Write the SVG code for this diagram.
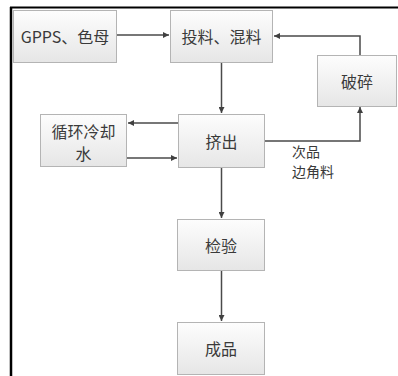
<svg xmlns="http://www.w3.org/2000/svg" width="398" height="376" viewBox="0 0 398 376">
<style>
.box{fill:url(#g);stroke:#b4b4b4;stroke-width:1}
.sh{fill:#d8d8d8}
.t{font-family:"Noto Sans CJK SC","Liberation Sans",sans-serif;font-size:16px;fill:#3a3a3a;text-anchor:middle;dominant-baseline:central}
.lb{font-family:"Noto Sans CJK SC","Liberation Sans",sans-serif;font-size:14px;fill:#3a3a3a}
.c{fill:none;stroke:#4a4a4a;stroke-width:1.5}
</style>
<defs>
<linearGradient id="g" x1="0" y1="0" x2="0" y2="1">
<stop offset="0" stop-color="#fdfdfd"/>
<stop offset="1" stop-color="#e6e6e6"/>
</linearGradient>
<marker id="a" viewBox="0 0 10 10" refX="10" refY="5" markerWidth="6" markerHeight="6" orient="auto" markerUnits="userSpaceOnUse">
<path d="M0,0 L10,5 L0,10 z" fill="#404040"/>
</marker>
</defs>
<rect x="0" y="0" width="398" height="376" fill="#fff"/>
<line x1="10" y1="7.5" x2="398" y2="7.5" stroke="#000" stroke-width="2"/>
<line x1="11" y1="7" x2="11" y2="376" stroke="#000" stroke-width="2.5"/>
<g id="connectors">
<path class="c" d="M117,35 H169" marker-end="url(#a)"/>
<path class="c" d="M360,55 V36 H274" marker-end="url(#a)"/>
<path class="c" d="M221.5,63 V113" marker-end="url(#a)"/>
<path class="c" d="M178,123 H128" marker-end="url(#a)"/>
<path class="c" d="M127,158 H177" marker-end="url(#a)"/>
<path class="c" d="M264,141 H360 V107" marker-end="url(#a)"/>
<path class="c" d="M221.5,168 V218" marker-end="url(#a)"/>
<path class="c" d="M221.5,271 V321" marker-end="url(#a)"/>
</g>
<g id="n-gpps">
<rect class="box" x="13.5" y="10.5" width="103" height="52"/>
<text class="t" x="65" y="36">GPPS、色母</text>
</g>
<g id="n-mix">
<rect class="box" x="170.5" y="10.5" width="102" height="52"/>
<text class="t" x="221.5" y="36">投料、混料</text>
</g>
<g id="n-crush">
<rect class="box" x="317.5" y="55.5" width="79" height="51"/>
<text class="t" x="357" y="81">破碎</text>
</g>
<g id="n-cool">
<rect class="box" x="40.5" y="114.5" width="86" height="52"/>
<text class="t" x="83.5" y="131">循环冷却</text>
<text class="t" x="83.5" y="153">水</text>
</g>
<g id="n-extrude">
<rect class="box" x="178.5" y="114.5" width="86" height="53"/>
<text class="t" x="221.5" y="141">挤出</text>
</g>
<g id="n-inspect">
<rect class="box" x="177.5" y="219.5" width="87" height="51"/>
<text class="t" x="221" y="245">检验</text>
</g>
<g id="n-product">
<rect class="box" x="177.5" y="322.5" width="87" height="52"/>
<text class="t" x="221" y="348">成品</text>
</g>
<g id="label">
<text class="lb" x="292" y="157">次品</text>
<text class="lb" x="292" y="177">边角料</text>
</g>
</svg>
